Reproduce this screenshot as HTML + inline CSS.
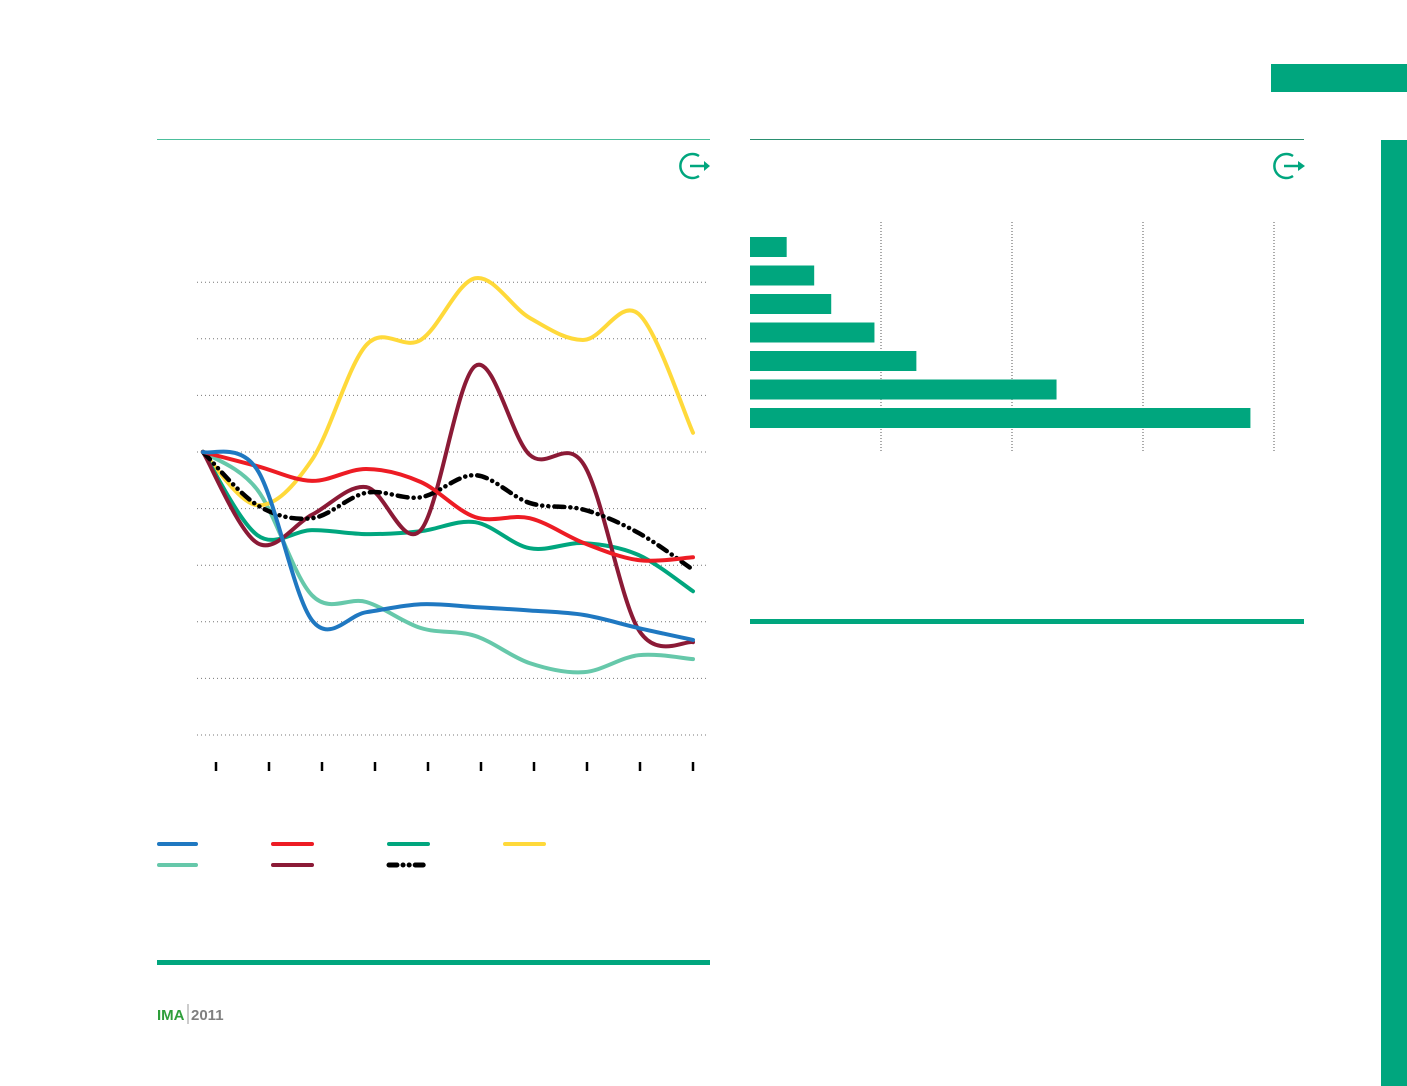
<!DOCTYPE html>
<html><head><meta charset="utf-8"><style>
body{margin:0;background:#fff;font-family:"Liberation Sans",sans-serif}
svg{display:block}
</style></head><body>
<svg width="1407" height="1086" viewBox="0 0 1407 1086">
<rect x="1271" y="64" width="136" height="28" fill="#00a67e"/>
<rect x="1381" y="140" width="26" height="946" fill="#00a67e"/>
<line x1="157" y1="139.5" x2="710" y2="139.5" stroke="#4cbf9c" stroke-width="1"/>
<line x1="750" y1="139.5" x2="1304" y2="139.5" stroke="#2a8f70" stroke-width="1"/>
<rect x="157" y="960" width="553" height="5" fill="#00a67e"/>
<rect x="750" y="619" width="554" height="5" fill="#00a67e"/>
<g fill="none" stroke="#00a67e" stroke-width="2.5">
<path d="M699 156 A12 12 0 1 0 699 176"/><line x1="690" y1="166" x2="706" y2="166"/><path d="M704 161 L710 166 L704 171 Z" fill="#00a67e" stroke="none"/></g>
<g fill="none" stroke="#00a67e" stroke-width="2.5">
<path d="M1293 156 A12 12 0 1 0 1293 176"/><line x1="1284" y1="166" x2="1300" y2="166"/><path d="M1298 161 L1305 166 L1298 171 Z" fill="#00a67e" stroke="none"/></g>
<g id="linechart"></g>
<g id="barchart"></g>
<g stroke-width="4" stroke-linecap="round">
<line x1="159" y1="844" x2="196" y2="844" stroke="#1f78c1"/>
<line x1="273" y1="844" x2="312" y2="844" stroke="#ed1c24"/>
<line x1="389" y1="844" x2="428" y2="844" stroke="#00a67e"/>
<line x1="505" y1="844" x2="544" y2="844" stroke="#ffd93a"/>
<line x1="159" y1="865" x2="196" y2="865" stroke="#66c8aa"/>
<line x1="273" y1="865" x2="312" y2="865" stroke="#8b1a36"/>
<line x1="389" y1="865" x2="428" y2="865" stroke="#000" stroke-dasharray="8 6 0.1 6 0.1 6" stroke-width="5"/>
</g>
<g font-weight="bold" font-size="15">
<text x="157" y="1020" fill="#2e9e3a">IMA</text>
<line x1="188" y1="1004" x2="188" y2="1024" stroke="#999"/>
<text x="191" y="1020" fill="#808080">2011</text>
</g>
</svg>
<script>
const NS="http://www.w3.org/2000/svg";
const xCount=10;
const gridValues=[50,60,70,80,90,100,110,120,130];
const seriesYellow=[100,90.6,98.6,118.9,119.8,130.7,123.7,119.8,124.4,103.4];
const seriesMaroon=[100,83.9,88.9,93.8,86.2,115.2,99.5,97.7,68.6,66.4];
const seriesAverage=[100,90.6,88.3,92.8,92,95.9,91,89.8,85.7,79.2];
const seriesRed=[100,97.5,94.9,97,94.7,88.5,88.3,83.9,80.9,81.4];
const seriesGreen=[100,85.3,86.2,85.5,86,87.6,83,83.9,81.8,75.4];
const seriesBlue=[100,96.8,70.3,71.7,73.1,72.6,72,71.2,68.9,66.8];
const seriesTeal=[100,93.3,74.7,73.5,68.9,67.5,62.7,61.1,64.1,63.4];
const barValues=[2.8,4.9,6.2,9.5,12.7,23.4,38.2];
const barGridValues=[10,20,30,40];

const xs=i=>203+i*(490/(xCount-1));
const ys=v=>452-(v-100)*5.66;
const lc=document.getElementById('linechart');
function mk(t,a,p){const e=document.createElementNS(NS,t);for(const k in a)e.setAttribute(k,a[k]);p.appendChild(e);return e;}
gridValues.forEach(v=>{
 const l=mk('line',{x1:197,x2:708,y1:ys(v),y2:ys(v),stroke:'#777','stroke-width':1,'stroke-dasharray':'1 3'},lc);
 
 
});
for(let i=0;i<xCount;i++){
 const x=216+i*53;
 const t=mk('line',{x1:x,x2:x,y1:762,y2:771,stroke:'#000','stroke-width':2.5},lc);
 
 
}
function pathD(vals){
 const p=vals.map((v,i)=>[xs(i),ys(v)]);
 let d='M'+p[0][0]+' '+p[0][1];
 for(let i=0;i<p.length-1;i++){
  const p0=p[Math.max(0,i-1)],p1=p[i],p2=p[i+1],p3=p[Math.min(p.length-1,i+2)];
  const c1=[p1[0]+(p2[0]-p0[0])/6,p1[1]+(p2[1]-p0[1])/6];
  const c2=[p2[0]-(p3[0]-p1[0])/6,p2[1]-(p3[1]-p1[1])/6];
  d+=` C${c1[0]} ${c1[1]} ${c2[0]} ${c2[1]} ${p2[0]} ${p2[1]}`;
 }
 return d;
}
[[seriesTeal,'#66c8aa','teal'],[seriesYellow,'#ffd93a','yellow'],[seriesGreen,'#00a67e','green'],[seriesMaroon,'#8b1a36','maroon'],[seriesAverage,'#000','average'],[seriesRed,'#ed1c24','red'],[seriesBlue,'#1f78c1','blue']].forEach(([s,c,n])=>{
 const a={d:pathD(s),fill:'none',stroke:c,'stroke-width':4,'stroke-linecap':'round'};
 if(n==='average'){a['stroke-dasharray']='10 6 0.1 6 0.1 6';a['stroke-width']=4.5;}
 const e=mk('path',a,lc);
 
 
});
const bc=document.getElementById('barchart');
const bx=v=>750+v*13.1;
barGridValues.forEach(v=>{
 const l=mk('line',{x1:bx(v),x2:bx(v),y1:222,y2:452,stroke:'#555','stroke-width':1,'stroke-dasharray':'1 2'},bc);
 
 
});
barValues.forEach((v,i)=>{
 const r=mk('rect',{x:750,y:237+i*28.5,width:bx(v)-750,height:20,fill:'#00a67e'},bc);
 
 
});
</script>
</body></html>
